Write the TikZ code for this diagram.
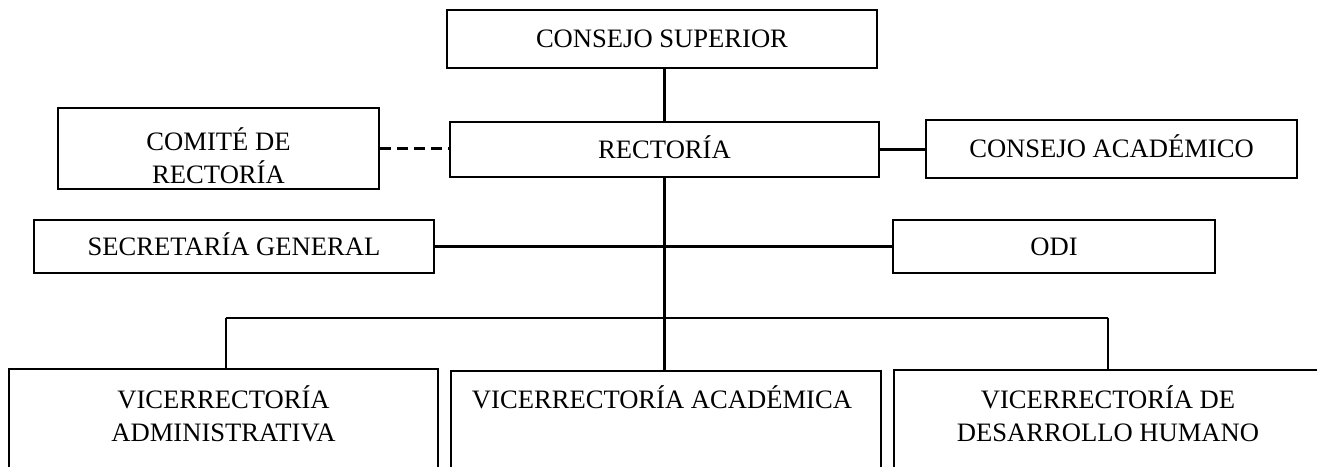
\documentclass[tikz,border=0pt]{standalone}
\usepackage{fontspec}
\setmainfont{Liberation Serif}
\begin{document}
\begin{tikzpicture}[x=1pt,y=-1pt,
  box/.style={draw, line width=2.5pt, inner sep=0pt},
  capline/.style={text height=17.7pt, text depth=0pt},
  lbl/.style={font=\fontsize{26.6}{33}\selectfont, inner sep=0pt},
  link/.style={line width=2.2pt},
  dlink/.style={line width=2.2pt, dash pattern=on 11pt off 6pt}]
\useasboundingbox (0,0) rectangle (1317,466);
\clip (0,0) rectangle (1317,466);
% top boxes
\node[box, lbl, capline, minimum width=430pt, minimum height=58pt] (cs) at (662,39) {CONSEJO SUPERIOR};
\node[box, minimum width=321pt, minimum height=81pt] (com) at (218.5,148.5) {};
\node[lbl, anchor=base] (comT) at (218.5,150) {\begin{tabular}[t]{@{}c@{}}COMITÉ DE\\RECTORÍA\end{tabular}};
\node[box, lbl, capline, minimum width=429pt, minimum height=55pt] (rect) at (664.5,149.5) {RECTORÍA};
\node[box, lbl, capline, minimum width=371pt, minimum height=58pt] (ca) at (1111.5,149) {CONSEJO ACADÉMICO};
\node[box, lbl, capline, minimum width=400pt, minimum height=53pt] (sec) at (234,246.5) {SECRETARÍA GENERAL};
\node[box, lbl, capline, minimum width=322pt, minimum height=53pt] (odi) at (1054,246.5) {ODI};
% bottom boxes (cut by the page edge)
\node[box, minimum width=429pt, minimum height=131pt] (va) at (223.5,434.5) {};
\node[box, minimum width=430pt, minimum height=129pt] (vac) at (666,435.5) {};
\node[box, minimum width=428pt, minimum height=130pt] (vdh) at (1108,435) {};
\node[lbl, anchor=base] (vaT) at (223.5,408) {\begin{tabular}[t]{@{}c@{}}VICERRECTORÍA\\ADMINISTRATIVA\end{tabular}};
\node[lbl, anchor=base] (vacT) at (662,408) {VICERRECTORÍA ACADÉMICA};
\node[lbl, anchor=base] (vdhT) at (1108,408) {\begin{tabular}[t]{@{}c@{}}VICERRECTORÍA DE\\DESARROLLO HUMANO\end{tabular}};
% connectors
\draw[link] (rect.north |- cs.south) -- (rect.north);
\draw[dlink] (com.east) -- (com.east -| rect.west);
\draw[link] (rect.east) -- (rect.east -| ca.west);
\draw[link] (sec.east) -- (odi.west);
\draw[link] (rect.south) -- (rect.south |- vac.north);
\coordinate (busL) at (226,318);
\coordinate (busR) at (1108,318);
\draw[link] (busL) -- (busR);
\draw[link] (busL) -- (busL |- va.north);
\draw[link] (busR) -- (busR |- vdh.north);
\end{tikzpicture}
\end{document}
